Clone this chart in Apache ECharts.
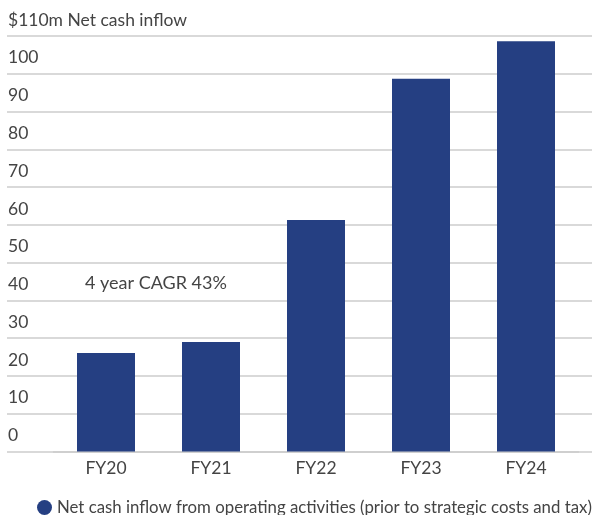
<!DOCTYPE html>
<html>
<head>
<meta charset="utf-8">
<script src="https://cdn.jsdelivr.net/npm/echarts@6/dist/echarts.min.js"></script>
<style>
  html, body { margin: 0; padding: 0; background: #fff; }
  #chart { width: 595px; height: 515px; }
</style>
</head>
<body>
<div id="chart"></div>
<script>
const categories = ['FY20', 'FY21', 'FY22', 'FY23', 'FY24'];
const netCashInflow = [26.1, 29.0, 61.3, 98.7, 108.6];
const seriesName = 'Net cash inflow from operating activities (prior to strategic costs and tax)';
const axisTitle = '$110m Net cash inflow';
const cagrNote = '4 year CAGR 43%';

const fontFamily = 'Lato, "Open Sans", sans-serif';
const textColor = '#444';
const barColor = '#253f82';

const chart = echarts.init(document.getElementById('chart'));

const option = {
    animation: false,
    textStyle: { fontFamily: fontFamily },
    grid: [
        // gridlines and y labels, full width
        { left: 7, right: 3, top: 36, bottom: 63.5 },
        // bars
        { left: 53.5, right: 16.5, top: 36, bottom: 63.5 }
    ],
    legend: {
        data: [seriesName],
        left: 32,
        bottom: -6,
        icon: 'circle',
        itemWidth: 15,
        itemHeight: 15,
        itemGap: 6,
        textStyle: { color: textColor, fontSize: 16.8, fontFamily: fontFamily }
    },
    xAxis: [
        { gridIndex: 0, type: 'value', min: 0, max: 1, show: false },
        {
            gridIndex: 1,
            type: 'category',
            data: categories,
            axisLine: { show: true, lineStyle: { color: '#cccccc', width: 1.5 } },
            axisTick: { show: false },
            axisLabel: { color: textColor, fontSize: 17.5, margin: 8 }
        }
    ],
    yAxis: [
        {
            gridIndex: 0,
            type: 'value',
            min: 0,
            max: 110,
            interval: 10,
            axisLine: { show: false },
            axisTick: { show: false },
            splitLine: { lineStyle: { color: '#cccccc', width: 1.5 } },
            axisLabel: {
                inside: true,
                margin: 1,
                verticalAlign: 'bottom',
                padding: [0, 0, 7, 0],
                color: textColor,
                fontSize: 17.5,
                formatter: v => (v === 110 ? axisTitle : String(v))
            }
        },
        { gridIndex: 1, type: 'value', min: 0, max: 110, show: false }
    ],
    graphic: [
        {
            type: 'text',
            left: 85,
            top: 274,
            style: { text: cagrNote, fill: textColor, fontSize: 18, fontFamily: fontFamily }
        }
    ],
    series: [
        {
            name: seriesName,
            type: 'bar',
            xAxisIndex: 1,
            yAxisIndex: 1,
            data: netCashInflow,
            barWidth: 58,
            itemStyle: { color: barColor }
        }
    ]
};

chart.setOption(option);
</script>
</body>
</html>
